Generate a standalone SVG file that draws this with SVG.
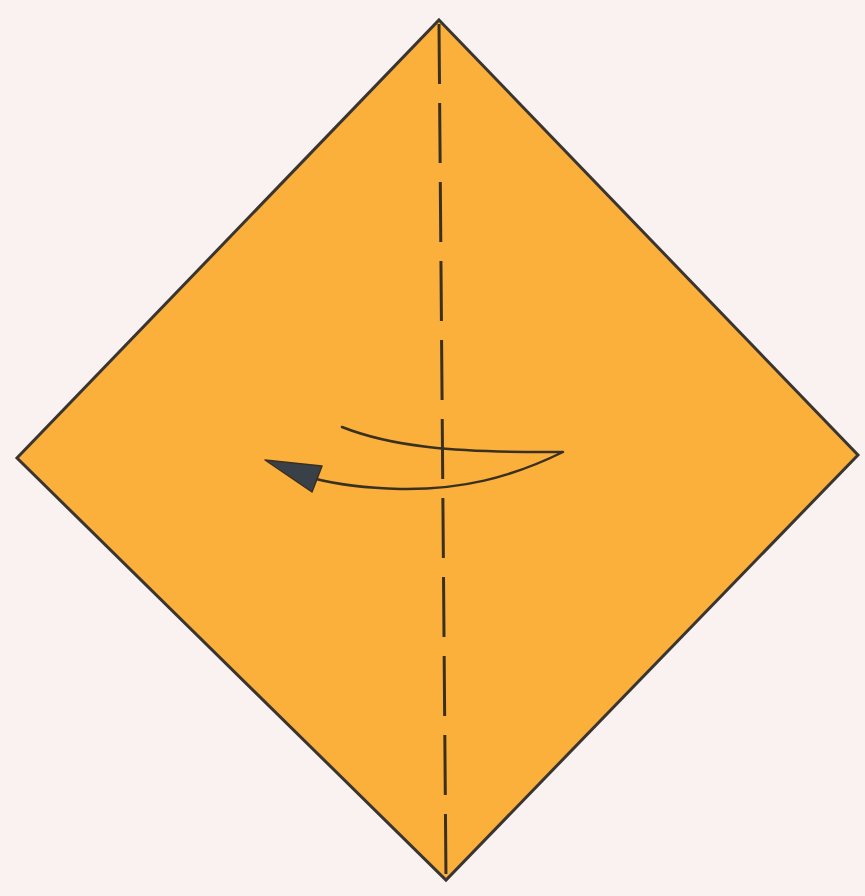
<svg xmlns="http://www.w3.org/2000/svg" width="865" height="896" viewBox="0 0 865 896">
<style>
.paper{fill:#fbb03c;stroke:#3a3530;stroke-width:3;stroke-linejoin:miter}
.fold{fill:none;stroke:#3a3020;stroke-width:3;stroke-dasharray:60 19}
.arr{fill:none;stroke:#3a3020;stroke-width:2.5;stroke-linecap:round;stroke-linejoin:round}
.head{fill:#3a4048;stroke:#3a3020;stroke-width:1.5;stroke-linejoin:round}
</style>
<rect width="865" height="896" fill="#faf1f1"/>
<g id="paper">
<polygon class="paper" points="439,20 858,455 446,880 17,458"/>
</g>
<g id="connectors">
<line class="fold" x1="439" y1="24" x2="446" y2="880"/>
<path class="arr" d="M342,427 C390,446 450,453 563,452 C510,478 460,490 400,489 C360,488 335,484 312,478"/>
<polygon class="head" points="265,460 322,466 312,492"/>
</g>
</svg>
